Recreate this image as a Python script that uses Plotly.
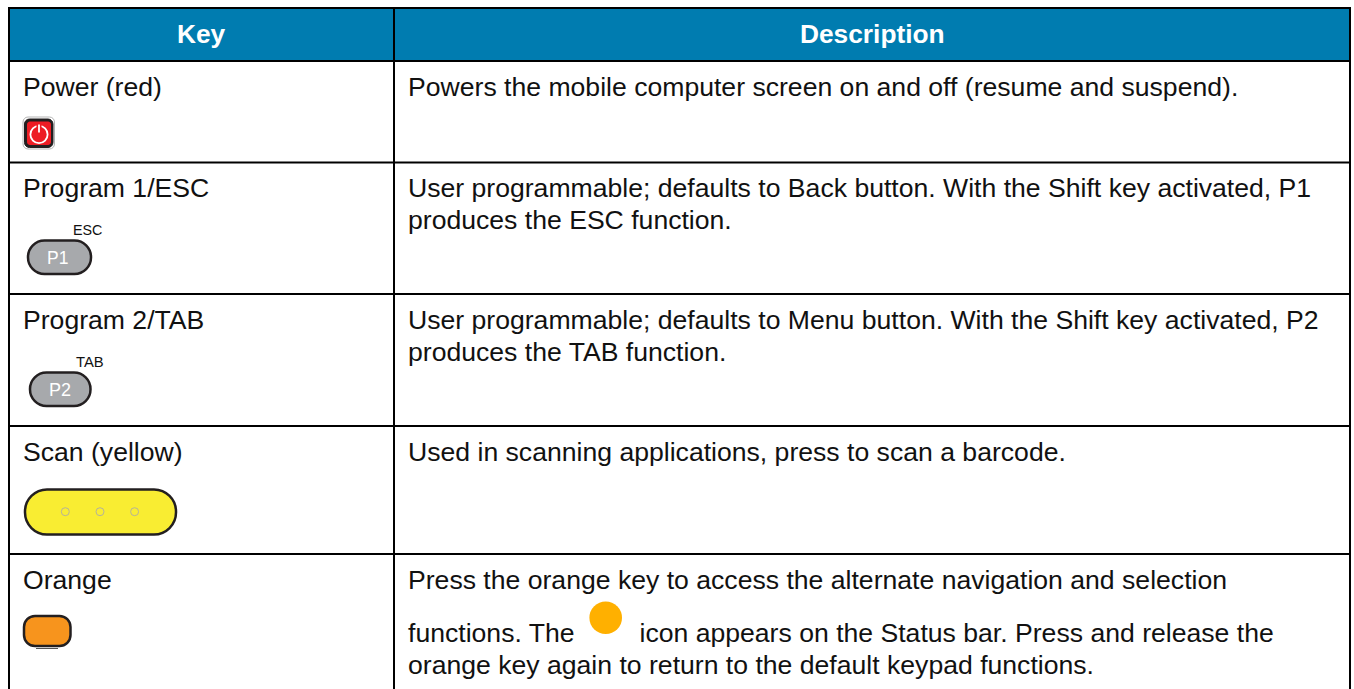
import plotly.graph_objects as go

# ---- table content ----
headers = ["Key", "Description"]
key_labels = ["Power (red)", "Program 1/ESC", "Program 2/TAB", "Scan (yellow)", "Orange"]
desc_lines = [
    ["Powers the mobile computer screen on and off (resume and suspend)."],
    ["User programmable; defaults to Back button. With the Shift key activated, P1",
     "produces the ESC function."],
    ["User programmable; defaults to Menu button. With the Shift key activated, P2",
     "produces the TAB function."],
    ["Used in scanning applications, press to scan a barcode."],
    ["Press the orange key to access the alternate navigation and selection",
     "functions. The",
     "orange key again to return to the default keypad functions."],
]
inline_after_icon = "icon appears on the Status bar. Press and release the"

# ---- layout (pixel space of the page) ----
W, H = 1354, 689
FONT = "Liberation Sans"
SIZE = 26.6
LEFT, MID, RIGHT = 9, 394, 1350
TOP, HEAD_BOTTOM = 8, 61
ROW_LINES = [162.5, 294, 426, 554]
BOTTOM = 689
KEY_X, DESC_X = 23, 408
KEY_Y = [89, 190, 322, 454, 582]
DESC_Y = [[89], [190, 222], [322, 354], [454], [582, 635, 667]]
HEADER_COLOR = "#007cb0"
INK = "#231f20"


def rrect(x0, y0, x1, y1, r):
    k = 0.45 * r
    return (f"M{x0+r},{y0} L{x1-r},{y0} C{x1-k},{y0} {x1},{y0+k} {x1},{y0+r} "
            f"L{x1},{y1-r} C{x1},{y1-k} {x1-k},{y1} {x1-r},{y1} "
            f"L{x0+r},{y1} C{x0+k},{y1} {x0},{y1-k} {x0},{y1-r} "
            f"L{x0},{y0+r} C{x0},{y0+k} {x0+k},{y0} {x0+r},{y0} Z")


shapes = []


def rect(x0, y0, x1, y1, fill):
    shapes.append(dict(type="rect", x0=x0, y0=y0, x1=x1, y1=y1, fillcolor=fill,
                       line_width=0, layer="below"))


def line(x0, y0, x1, y1, color="#000000", w=2):
    shapes.append(dict(type="line", x0=x0, y0=y0, x1=x1, y1=y1,
                       line=dict(color=color, width=w)))


def rounded(x0, y0, x1, y1, r, fill, lc=INK, lw=2):
    shapes.append(dict(type="path", path=rrect(x0, y0, x1, y1, r), fillcolor=fill,
                       line=dict(color=lc, width=lw)))


def circle(cx, cy, r, fill, lc=None, lw=0):
    shapes.append(dict(type="circle", x0=cx-r, x1=cx+r, y0=cy-r, y1=cy+r, fillcolor=fill,
                       line=dict(color=lc or fill, width=lw)))


# table frame
rect(LEFT, TOP, RIGHT, HEAD_BOTTOM, HEADER_COLOR)
line(LEFT-1, TOP, RIGHT+1, TOP)
line(LEFT, TOP, LEFT, BOTTOM)
line(RIGHT, TOP, RIGHT, BOTTOM)
line(MID, TOP, MID, BOTTOM)
line(LEFT, HEAD_BOTTOM, RIGHT, HEAD_BOTTOM)
for y in ROW_LINES:
    line(LEFT, y, RIGHT, y)

# power key
rounded(23, 117, 54.5, 149, 5, "#ffffff", "#b5b5b5", 1)
rounded(24.5, 119, 53, 147.5, 5, INK, INK, 1)
rounded(27, 121.5, 51, 145, 3, "#ed1c24", "#ed1c24", 0)
circle(39, 134.5, 8.6, "rgba(0,0,0,0)", "#ffffff", 1.8)
line(39, 123.5, 39, 132.5, "#ed1c24", 5)
line(39, 124.5, 39, 132.5, "#ffffff", 1.8)

# P1 / P2 keys
rounded(28, 240.5, 91, 274, 16.5, "#a7a9ac", INK, 2.5)
rounded(30, 372.5, 90.5, 406, 16.5, "#a7a9ac", INK, 2.5)

# scan key
rounded(25, 489.5, 176, 534.5, 22, "#f9ed32", INK, 2.5)
for cx in (65.3, 100, 134.6):
    circle(cx, 511.7, 4, "rgba(0,0,0,0)", "#b5b39a", 1)

# orange key
rounded(24, 616, 70.5, 646, 11, "#f7941d", INK, 2.5)
line(36, 648.5, 58, 648.5, "#555555", 1)

# status icon inside the paragraph
circle(605.7, 617.7, 16.3, "#ffb000")

# ---- text ----
text_x, text_y, text_s = [], [], []
for label_text, y in zip(key_labels, KEY_Y):
    text_x.append(KEY_X); text_y.append(y); text_s.append(label_text)
for lines, ys in zip(desc_lines, DESC_Y):
    for t, y in zip(lines, ys):
        text_x.append(DESC_X); text_y.append(y); text_s.append(t)
text_x.append(639.5); text_y.append(635); text_s.append(inline_after_icon)

fig = go.Figure(go.Scatter(
    x=text_x, y=text_y, text=text_s, mode="text", textposition="middle right",
    textfont=dict(family=FONT, size=SIZE, color="#111111"),
    hoverinfo="skip", showlegend=False, cliponaxis=False,
))


def label(x, y, t, size, color="#111111", bold=False):
    fig.add_annotation(x=x, y=y, text=f"<b>{t}</b>" if bold else t, showarrow=False,
                       xanchor="center", yanchor="middle",
                       font=dict(family=FONT, size=size, color=color))


label((LEFT+MID)/2-0.5, 34, headers[0], 26.3, "#ffffff", True)
label((MID+RIGHT)/2, 34, headers[1], 26.3, "#ffffff", True)
label(57.7, 257.5, "P1", 17.5, "#ffffff")
label(60.2, 389.5, "P2", 18, "#ffffff")
label(87.3, 230, "ESC", 14.3, "#111111")
label(90, 362, "TAB", 14.8, "#111111")

fig.update_layout(
    width=W, height=H, margin=dict(l=0, r=0, t=0, b=0),
    paper_bgcolor="#ffffff", plot_bgcolor="#ffffff", shapes=shapes,
    xaxis=dict(range=[0, W], visible=False, fixedrange=True),
    yaxis=dict(range=[H, 0], visible=False, fixedrange=True),
)
fig.write_html("out.html", config=dict(displayModeBar=False),
               post_script="document.body.style.margin='0';document.body.style.overflow='hidden';")
